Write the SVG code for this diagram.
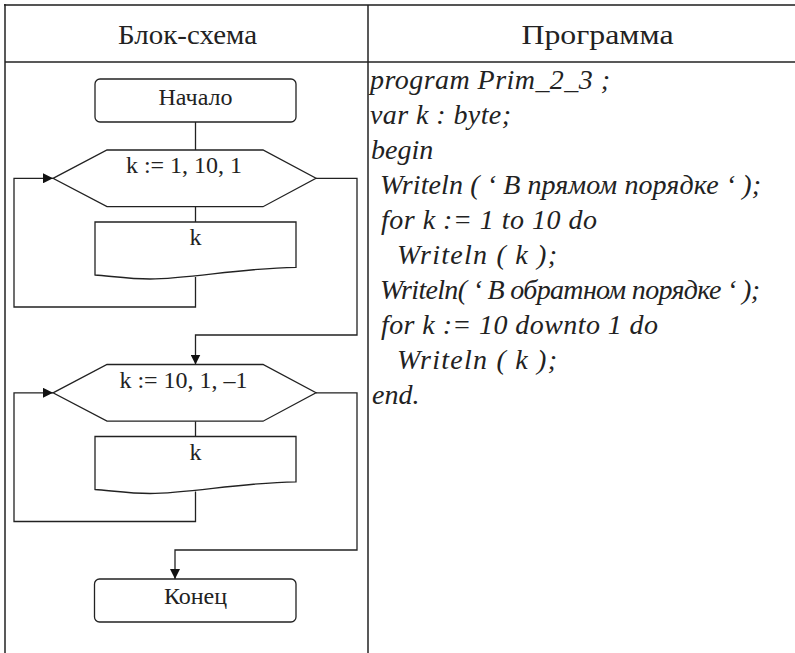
<svg xmlns="http://www.w3.org/2000/svg" width="795" height="653" viewBox="0 0 795 653">
<style>
.tbl{fill:none;stroke:#222;stroke-width:1.5}
.shape{fill:#fff;stroke:#222;stroke-width:1.3}
.line{fill:none;stroke:#222;stroke-width:1.3}
.serif{font-family:'Liberation Serif','Times New Roman',Tinos,'Noto Serif','DejaVu Serif',serif}
.hdr{font-size:28px;fill:#222;text-anchor:middle}
.lbl{font-size:24px;fill:#222;text-anchor:middle}
.code{font-size:28px;font-style:italic;fill:#222}
</style>
<defs>
<marker id="arr" viewBox="0 0 10 10" refX="10" refY="5" markerWidth="10" markerHeight="10" markerUnits="userSpaceOnUse" orient="auto">
<path d="M0,0 L10,5 L0,10 Z" fill="#111"/>
</marker>
</defs>
<rect width="795" height="653" fill="#fff"/>
<g id="table">
<line x1="4" y1="5" x2="795" y2="5" stroke="#555" stroke-width="2.2"/>
<line class="tbl" x1="5" y1="4" x2="5" y2="653"/>
<line class="tbl" x1="368" y1="5" x2="368" y2="653"/>
<line class="tbl" x1="5" y1="62" x2="795" y2="62"/>
<text class="hdr serif" x="187.5" y="44" textLength="139" lengthAdjust="spacingAndGlyphs">Блок-схема</text>
<text class="hdr serif" x="597.5" y="44" textLength="152" lengthAdjust="spacingAndGlyphs">Программа</text>
</g>
<g id="connectors">
<line class="line" x1="195.5" y1="122" x2="195.5" y2="150"/>
<line class="line" x1="195.5" y1="206.7" x2="195.5" y2="222"/>
<polyline class="line" points="195.5,277 195.5,307 14,307 14,178.3 53,178.3" marker-end="url(#arr)"/>
<polyline class="line" points="316,178.3 357,178.3 357,335 195.5,335 195.5,364.5" marker-end="url(#arr)"/>
<line class="line" x1="195.5" y1="421.2" x2="195.5" y2="436.5"/>
<polyline class="line" points="195.5,491.5 195.5,521.5 14,521.5 14,392.8 53,392.8" marker-end="url(#arr)"/>
<polyline class="line" points="316,392.8 357,392.8 357,550 175,550 175,579" marker-end="url(#arr)"/>
</g>
<g id="start">
<rect class="shape" x="95" y="79" width="201" height="43" rx="5"/>
<text class="lbl serif" x="195.5" y="105">Начало</text>
</g>
<g id="loop1">
<polygon class="shape" points="53,178.3 107,150 263,150 316,178.3 263,206.7 107,206.7"/>
<text class="lbl serif" x="184" y="173">k := 1, 10, 1</text>
</g>
<g id="out1">
<path class="shape" d="M95,222 H296 V267.3 C240,268 190,279 150,279 C130,279 110,276 95,275 Z"/>
<text class="lbl serif" x="195.5" y="245">k</text>
</g>
<g id="loop2">
<polygon class="shape" points="53,392.8 107,364.5 263,364.5 316,392.8 263,421.2 107,421.2"/>
<text class="lbl serif" x="183.5" y="388">k := 10, 1, –1</text>
</g>
<g id="out2">
<path class="shape" d="M95,436.5 H296 V481.8 C240,482.5 190,493.5 150,493.5 C130,493.5 110,490.5 95,489.5 Z"/>
<text class="lbl serif" x="195.5" y="459.5">k</text>
</g>
<g id="end">
<rect class="shape" x="94.5" y="579" width="201.5" height="43" rx="5"/>
<text class="lbl serif" x="195.5" y="604">Конец</text>
</g>
<g id="program" class="serif">
<text class="code" x="370" y="88.5" textLength="240">program Prim_2_3 ;</text>
<text class="code" x="370" y="123.5" textLength="141">var k : byte;</text>
<text class="code" x="371" y="158.5">begin</text>
<text class="code" x="380" y="193.5" textLength="381">Writeln ( ‘ В прямом порядке ‘ );</text>
<text class="code" x="381" y="228.5" textLength="216">for k := 1 to 10 do</text>
<text class="code" x="397" y="263.5" textLength="160">Writeln ( k );</text>
<text class="code" x="380" y="298.5" textLength="380">Writeln( ‘ В обратном порядке ‘ );</text>
<text class="code" x="381" y="333.5" textLength="277">for k := 10 downto 1 do</text>
<text class="code" x="397" y="368.5" textLength="160">Writeln ( k );</text>
<text class="code" x="372" y="403.5">end.</text>
</g>
</svg>
